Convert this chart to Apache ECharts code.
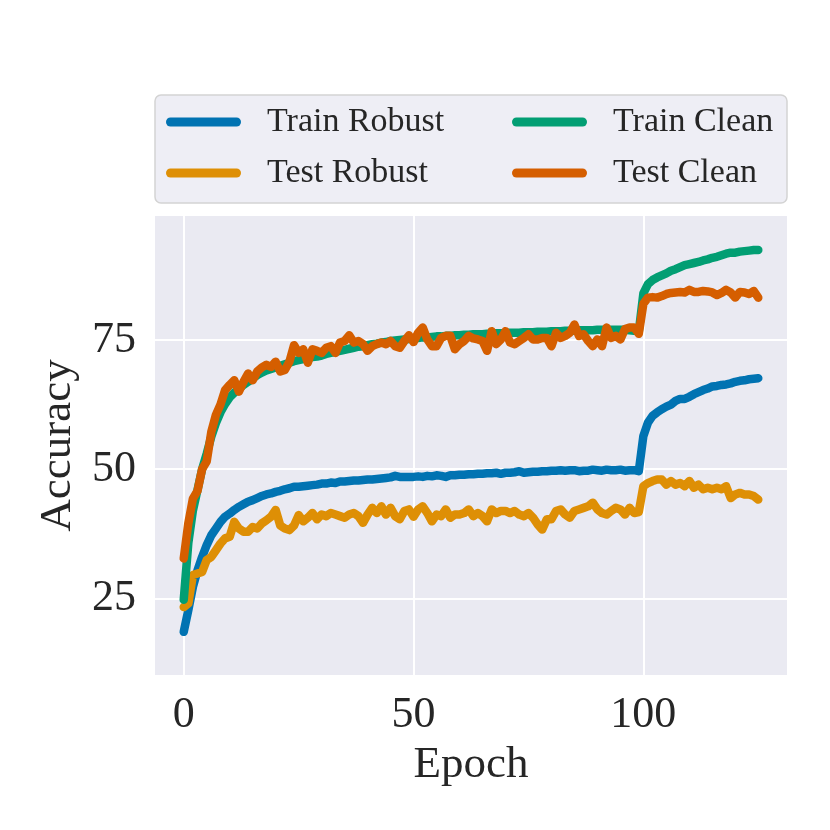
<!DOCTYPE html>
<html>
<head>
<meta charset="utf-8">
<script src="https://cdn.jsdelivr.net/npm/echarts@6/dist/echarts.min.js"></script>
<style>
html,body{margin:0;padding:0;background:#fff;}
#chart{width:830px;height:830px;}
</style>
</head>
<body>
<div id="chart"></div>
<script>
const seriesNames = ['Train Robust', 'Test Robust', 'Train Clean', 'Test Clean'];
const legendOrder = ['Train Robust', 'Train Clean', 'Test Robust', 'Test Clean'];
const xTicks = [0, 50, 100];
const yTicks = [25, 50, 75];

const trainRobust = [
  18.5, 22.7, 27.2, 30.4, 33.0, 35.3, 37.2, 38.5, 39.8, 40.8, 41.4, 42.1, 42.7, 43.2, 43.7, 44.0, 44.4, 44.8, 45.1, 45.3, 45.6, 45.8, 46.1, 46.3, 46.6, 46.6,
  46.7, 46.8, 46.9, 47.0, 47.2, 47.2, 47.4, 47.3, 47.6, 47.6, 47.7, 47.8, 47.8, 47.9, 48.0, 48.0, 48.1, 48.2, 48.3, 48.4, 48.7, 48.5, 48.5, 48.5, 48.5,
  48.6, 48.5, 48.7, 48.6, 48.8, 48.7, 48.5, 48.8, 48.8, 48.9, 48.9, 49.0, 49.0, 49.1, 49.1, 49.2, 49.2, 49.3, 49.1, 49.3, 49.3, 49.4, 49.6, 49.3, 49.4,
  49.5, 49.5, 49.6, 49.6, 49.7, 49.7, 49.8, 49.7, 49.8, 49.8, 49.6, 49.7, 49.7, 49.9, 49.8, 49.7, 49.9, 49.8, 49.8, 49.9, 49.7, 49.8, 49.8, 49.6,
  56.4, 59.0, 60.3, 61.0, 61.6, 62.1, 62.5, 63.2, 63.6, 63.6, 64.0, 64.5, 64.9, 65.3, 65.6, 66.0, 66.1, 66.3, 66.4, 66.6, 66.9, 67.1, 67.2, 67.4, 67.5, 67.6
];
const testRobust = [
  23.3, 24.0, 29.5, 29.8, 30.1, 32.4, 33.0, 34.3, 35.6, 36.6, 36.9, 39.8, 38.5, 37.9, 37.9, 38.8, 38.5, 39.5, 40.1, 40.8, 42.1, 39.1, 38.5, 38.2, 39.1, 41.1,
  39.9, 40.6, 41.5, 40.3, 41.2, 40.9, 41.5, 41.2, 40.9, 40.6, 41.2, 41.5, 40.9, 39.6, 41.2, 42.5, 41.5, 42.8, 41.2, 42.5, 40.9, 40.3, 41.9, 42.2, 40.8,
  42.2, 42.8, 41.5, 39.9, 41.2, 40.9, 42.2, 40.6, 41.2, 41.2, 41.5, 42.2, 40.9, 41.5, 40.9, 39.9, 42.2, 41.5, 41.9, 41.9, 41.5, 41.9, 41.2, 40.9, 41.5,
  40.6, 39.3, 38.3, 40.3, 40.3, 41.9, 42.2, 41.2, 40.6, 41.9, 42.2, 42.5, 42.8, 43.5, 42.2, 41.5, 41.2, 41.9, 42.5, 42.2, 41.2, 42.5, 41.5, 41.7,
  46.7, 47.3, 47.7, 48.0, 48.0, 47.0, 47.7, 47.0, 47.3, 46.7, 47.7, 46.4, 47.0, 46.1, 46.4, 46.1, 46.4, 46.1, 46.7, 44.4, 45.1, 45.4, 45.1, 45.1, 44.8, 44.1
];
const trainClean = [
  24.7, 35.7, 42.0, 46.0, 50.0, 53.0, 56.3, 58.9, 61.0, 62.6, 63.9, 64.8, 65.5, 66.3, 66.9, 67.6, 68.2, 68.7, 69.1, 69.4, 69.7, 70.0, 70.3, 70.6, 70.9, 71.1,
  71.3, 71.5, 71.7, 71.8, 72.0, 72.3, 72.5, 72.7, 72.9, 73.1, 73.3, 73.5, 73.7, 73.8, 74.0, 74.2, 74.3, 74.5, 74.6, 74.8, 74.9, 75.0, 75.1, 75.2, 75.3,
  75.4, 75.5, 75.5, 75.6, 75.7, 75.7, 75.8, 75.8, 75.9, 75.9, 76.0, 76.0, 76.1, 76.1, 76.1, 76.2, 76.2, 76.3, 76.3, 76.3, 76.4, 76.4, 76.4, 76.5, 76.5,
  76.5, 76.6, 76.6, 76.6, 76.7, 76.7, 76.7, 76.8, 76.8, 76.8, 76.9, 76.9, 76.9, 76.9, 77.0, 77.0, 77.0, 77.0, 77.0, 77.0, 77.0, 76.9, 76.8, 76.6,
  84.0, 85.8, 86.6, 87.1, 87.5, 87.9, 88.4, 88.7, 89.1, 89.5, 89.7, 89.9, 90.1, 90.4, 90.6, 90.9, 91.1, 91.4, 91.7, 91.9, 91.9, 92.1, 92.2, 92.3, 92.4, 92.4
];
const testClean = [
  32.7, 39.5, 44.3, 45.8, 50.0, 51.5, 57.2, 60.5, 62.5, 65.3, 66.3, 67.2, 65.0, 66.9, 68.5, 67.2, 68.9, 69.7, 70.2, 69.8, 70.8, 68.9, 69.2, 70.8, 74.0, 72.5,
  73.2, 70.6, 73.2, 72.9, 72.5, 73.5, 73.8, 72.5, 74.5, 74.8, 75.9, 74.5, 74.8, 74.2, 72.9, 73.8, 74.2, 74.5, 74.2, 74.8, 73.8, 73.5, 74.8, 75.9, 74.6,
  76.4, 77.4, 75.1, 73.8, 73.8, 75.4, 75.8, 75.8, 73.2, 74.2, 74.8, 75.8, 75.3, 75.1, 74.8, 72.9, 76.7, 74.2, 75.1, 76.7, 74.5, 74.2, 74.8, 75.4, 76.1,
  75.1, 75.1, 75.4, 75.4, 73.8, 76.4, 75.4, 75.8, 76.4, 78.0, 75.8, 76.1, 74.8, 73.8, 75.1, 73.8, 77.4, 75.4, 75.8, 75.1, 77.1, 77.4, 77.4, 76.2,
  82.0, 83.2, 83.3, 83.2, 83.5, 83.9, 84.1, 84.2, 84.3, 84.2, 84.7, 84.3, 84.3, 84.5, 84.4, 84.2, 83.7, 84.1, 84.7, 84.2, 83.2, 84.3, 84.2, 83.9, 84.5, 83.2
];

const colors = ['#0173B2', '#DE8F05', '#029E73', '#D55E00'];
const allValues = [trainRobust, testRobust, trainClean, testClean];

const FONT = "'Liberation Serif', 'Times New Roman', serif";
const TXT = '#262626';

const chart = echarts.init(document.getElementById('chart'), null, {renderer: 'canvas'});

const series = seriesNames.map((name, k) => ({
  name: name,
  type: 'line',
  data: allValues[k].map((v, i) => [i, v]),
  symbol: 'none',
  showSymbol: false,
  lineStyle: {color: colors[k], width: 8.5, cap: 'round', join: 'round'},
  itemStyle: {color: colors[k]},
  emphasis: {disabled: true},
  z: 2 + k
}));

const option = {
  animation: false,
  backgroundColor: '#ffffff',
  graphic: [{
    type: 'rect',
    shape: {x: 155, y: 95, width: 632, height: 108, r: 6},
    style: {fill: '#EEEEF5', stroke: '#D3D3D3', lineWidth: 1.5},
    z: 0
  }],
  legend: {
    data: legendOrder,
    left: 166,
    top: 105,
    width: 720,
    orient: 'horizontal',
    itemGap: 17,
    itemWidth: 75,
    itemHeight: 9,
    padding: 0,
    icon: 'path://M4.5,0 L70.5,0 A4.5,4.5 0 0 1 70.5,9 L4.5,9 A4.5,4.5 0 0 1 4.5,0 Z',
    textStyle: {fontFamily: FONT, fontSize: 34, color: TXT, width: 228, lineHeight: 32, padding: [0, 0, 0, 21]},
    selectedMode: false
  },
  grid: {left: 155, top: 216, right: 43, bottom: 155, containLabel: false, show: true, backgroundColor: '#EAEAF2', borderWidth: 0},
  xAxis: {
    type: 'value', min: -6.25, max: 131.25,
    name: 'Epoch', nameLocation: 'middle', nameGap: 68,
    nameTextStyle: {fontFamily: FONT, fontSize: 45, color: TXT},
    axisLine: {show: false},
    axisTick: {show: false, customValues: xTicks},
    axisLabel: {customValues: xTicks, fontFamily: FONT, fontSize: 44, color: TXT, margin: 18},
    splitLine: {show: true, lineStyle: {color: '#ffffff', width: 2}}
  },
  yAxis: {
    type: 'value', min: 10.15, max: 99.0,
    name: 'Accuracy', nameLocation: 'middle', nameGap: 70,
    nameTextStyle: {fontFamily: FONT, fontSize: 45, color: TXT},
    axisLine: {show: false},
    axisTick: {show: false, customValues: yTicks},
    axisLabel: {customValues: yTicks, fontFamily: FONT, fontSize: 44, color: TXT, margin: 19},
    splitLine: {show: true, lineStyle: {color: '#ffffff', width: 2}}
  },
  series: series
};
chart.setOption(option);
</script>
</body>
</html>
